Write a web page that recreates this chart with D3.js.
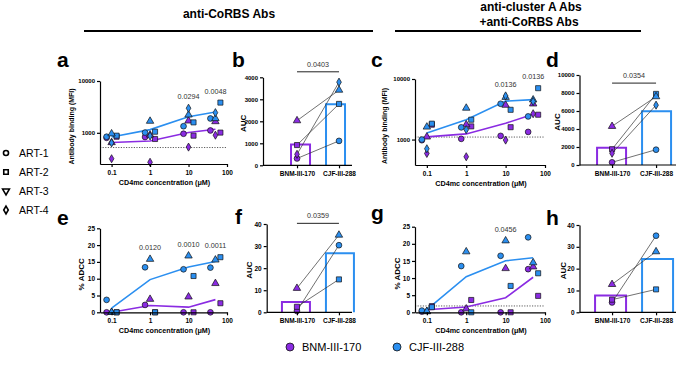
<!DOCTYPE html>
<head>
<meta charset="utf-8">
<script src="https://d3js.org/d3.v7.min.js"></script>
<style>
    body { margin:0; background:#fff; }
    svg text { font-family: "Liberation Sans", Arial, sans-serif; }
</style>
</head>
<body>
<svg id="fig" width="685" height="365"></svg>
<script>

    // ******************** Data ************************
    var compounds = ["BNM-III-170", "CJF-III-288"];
    var arts = ["ART-1", "ART-2", "ART-3", "ART-4"];
    var conc = [0.1, 1, 10, 50];
    var concTicks = [0.1, 1, 10, 100];

    // binding (MFI): rows = concentration, columns = ART-1..ART-4
    var bindCorbsBnm = [[800, 840, 650, 316], [830, 760, 910, 270], [960, 880, 1700, 530], [1110, 1010, 1650, 900]];
    var bindCorbsCjf = [[840, 880, 960, 640], [1010, 1050, 1680, 870], [1340, 1590, 2220, 2985], [1890, 3830, 1890, 2450]];
    var bindComboBnm = [[975, 1760, 1107, 590], [1027, 1650, 1760, 520], [1150, 1600, 3700, 980], [1337, 2570, 3890, 2670]];
    var bindComboCjf = [[1000, 1830, 1615, 705], [1590, 2127, 3310, 1458], [3900, 3100, 5000, 5260], [2410, 7050, 4530, 4250]];
    var bindCorbsP = [null, null, "0.0294", "0.0048"];
    var bindComboP = [null, null, "0.0136", "0.0136"];

    // % ADCC: rows = concentration, columns = ART-1..ART-3
    var adccCorbsBnm = [[0, 0, 0], [2.2, 0, 3.9], [0, 0, 4.6], [0, 2.7, 8.6]];
    var adccCorbsCjf = [[3.7, 0, 0], [13.4, 0, 15.8], [12.8, 10.8, 16.8], [13.3, 16.4, 15.6]];
    var adccComboBnm = [[0.2, 1.8, 0.2], [0, 3.6, 1.0], [0, 0, 12.8], [12.6, 4.8, 13.3]];
    var adccComboCjf = [[0.5, 1.5, 0.3], [13.5, 0, 17.7], [16.5, 7.7, 20.9], [21.9, 11.4, 14.5]];
    var adccCorbsP = [null, "0.0120", "0.0010", "0.0011"];
    var adccComboP = [null, null, "0.0456", null];

    // AUC per ART
    var aucBindCorbsBnm = [310, 920, 2030, 500];
    var aucBindCorbsCjf = [1110, 2790, 3420, 3780];
    var aucBindComboBnm = [300, 1750, 4300, 1300];
    var aucBindComboCjf = [1700, 7900, 7600, 6650];
    var aucAdccCorbsBnm = [0.6, 2.5, 10.9];
    var aucAdccCorbsCjf = [30.4, 14.9, 35.0];
    var aucAdccComboBnm = [4.5, 5.8, 12.8];
    var aucAdccComboCjf = [35.1, 10.5, 27.8];

    // ******************** Globals ************************
    var svg = d3.select("#fig");
    var colors = ["#8a2be2", "#2b8ff0"];
    var symbols = [d3.symbolCircle, d3.symbolSquare, d3.symbolTriangle, d3.symbolDiamond];
    var symSize = [26, 26, 24, 19];
    var artOffset = [-5, 5, 0, 0];

    function marker(g, art, col, x, y) {
        g.append("path")
            .attr("d", d3.symbol().type(symbols[art]).size(symSize[art])())
            .attr("transform", "translate(" + x + "," + y + ")")
            .attr("fill", col)
            .attr("stroke", "#111")
            .attr("stroke-width", 0.7);
    }

    function styleAxis(g, fs) {
        g.attr("font-family", "Liberation Sans, Arial, sans-serif")
            .attr("font-size", fs || 6.5)
            .attr("font-weight", "bold");
        g.select(".domain").attr("stroke-width", 1.2);
        g.selectAll(".tick line").attr("stroke-width", 1.2);
    }

    function yTitle(x, y, txt, fs) {
        svg.append("text")
            .attr("transform", "translate(" + x + "," + y + ") rotate(-90)")
            .attr("text-anchor", "middle")
            .attr("font-size", fs)
            .attr("font-weight", "bold")
            .text(txt);
    }

    function letter(x, y, txt) {
        svg.append("text").attr("x", x).attr("y", y)
            .attr("font-size", 21).attr("font-weight", "bold").text(txt);
    }

    // ******************** Dose-response panels ************************
    function dosePanel(o) {
        var x = d3.scaleLog().domain([0.05, 100]).range([o.x0, o.x1]);
        var y = (o.log ? d3.scaleLog() : d3.scaleLinear()).domain(o.yDomain).range([o.yBot, o.yTop]);
        var g = svg.append("g");

        if (o.dotted != null) {
            g.append("line")
                .attr("x1", o.x0).attr("x2", o.x1)
                .attr("y1", y(o.dotted)).attr("y2", y(o.dotted))
                .attr("stroke", "#333").attr("stroke-width", 0.8)
                .attr("stroke-dasharray", "1.2,1.4");
        }

        var line = d3.line().x(function (d) { return x(d[0]); }).y(function (d) { return y(d[1]); });
        o.data.forEach(function (rows, ci) {
            var means = rows.map(function (r, i) { return [conc[i], d3.mean(r)]; });
            g.append("path").attr("d", line(means))
                .attr("fill", "none").attr("stroke", colors[ci]).attr("stroke-width", 1.6);
        });
        o.data.forEach(function (rows, ci) {
            rows.forEach(function (r, i) {
                r.forEach(function (v, a) {
                    marker(g, a, colors[ci], x(conc[i]) + artOffset[a], y(Math.max(v, o.yDomain[0])));
                });
            });
        });

        // p-values above the highest point
        o.pvals.forEach(function (p, i) {
            if (!p) return;
            var top = d3.max(o.data, function (rows) { return d3.max(rows[i]); });
            g.append("text").attr("x", x(conc[i])).attr("y", y(top) - 9)
                .attr("text-anchor", "middle").attr("font-size", 7.2).attr("fill", "#333").text(p);
        });

        var ax = svg.append("g").attr("transform", "translate(0," + o.yBot + ")")
            .call(d3.axisBottom(x).tickValues(concTicks).tickFormat(d3.format("~g"))
                .tickSize(3).tickSizeOuter(0).tickPadding(3));
        styleAxis(ax);
        var ay = svg.append("g").attr("transform", "translate(" + o.x0 + ",0)")
            .call(d3.axisLeft(y).tickValues(o.yTicks).tickFormat(d3.format("d"))
                .tickSize(3).tickSizeOuter(0).tickPadding(2));
        styleAxis(ay, o.log ? 6 : 6.5);

        svg.append("text").attr("x", (o.x0 + o.x1) / 2 + 1).attr("y", o.yBot + 21)
            .attr("text-anchor", "middle").attr("font-size", 7.2).attr("font-weight", "bold")
            .text("CD4mc concentration (\u03bcM)");
        yTitle(o.titleX, (o.yTop + o.yBot) / 2 + 4, o.yTitle, o.log ? 7 : 8);
    }

    // ******************** AUC panels ************************
    function aucPanel(o) {
        var x = d3.scalePoint().domain(compounds)
            .range([o.axisX + o.pad * o.step, o.axisX + (o.pad + 1) * o.step]);
        var y = d3.scaleLinear().domain(o.yDomain).range([o.yBot, o.yTop]);
        var g = svg.append("g");

        // bars = mean, outlined
        o.data.forEach(function (vals, ci) {
            var cx = x(compounds[ci]);
            var left = ci === 0 ? cx - o.barOuter : cx - o.barInner;
            var right = ci === 0 ? cx + o.barInner : cx + o.barOuter;
            g.append("path")
                .attr("d", "M" + left + "," + o.yBot + "V" + y(d3.mean(vals)) + "H" + right + "V" + o.yBot)
                .attr("fill", "none").attr("stroke", colors[ci]).attr("stroke-width", 2);
        });

        // paired lines
        o.data[0].forEach(function (v, a) {
            g.append("line")
                .attr("x1", x(compounds[0])).attr("y1", y(v))
                .attr("x2", x(compounds[1])).attr("y2", y(o.data[1][a]))
                .attr("stroke", "#333").attr("stroke-width", 0.7);
        });
        o.data.forEach(function (vals, ci) {
            vals.forEach(function (v, a) { marker(g, a, colors[ci], x(compounds[ci]), y(v)); });
        });

        if (o.p) {
            g.append("line").attr("x1", x(compounds[0])).attr("x2", x(compounds[1]))
                .attr("y1", y(o.sigAt)).attr("y2", y(o.sigAt))
                .attr("stroke", "#222").attr("stroke-width", 1);
            g.append("text").attr("x", (x(compounds[0]) + x(compounds[1])) / 2).attr("y", y(o.sigAt) - 5)
                .attr("text-anchor", "middle").attr("font-size", 7.2).attr("fill", "#333").text(o.p);
        }

        var ax = svg.append("g").attr("transform", "translate(0," + o.yBot + ")")
            .call(d3.axisBottom(x).tickSize(3).tickSizeOuter(0).tickPadding(3));
        ax.select(".domain").attr("d", "M" + o.axisX + ",0H" + o.axisEnd);
        styleAxis(ax);
        var ay = svg.append("g").attr("transform", "translate(" + o.axisX + ",0)")
            .call(d3.axisLeft(y).tickValues(d3.range(o.yDomain[0], o.yDomain[1] + 1, o.yStep))
                .tickFormat(d3.format("d"))
                .tickSize(3).tickSizeOuter(0).tickPadding(2));
        styleAxis(ay, o.yStep >= 1000 ? 6 : 6.5);
        yTitle(o.titleX, (o.yTop + o.yBot) / 2 + 2, "AUC", 8);
    }

    // ******************** Headers ************************
    svg.append("text").attr("x", 229).attr("y", 18).attr("text-anchor", "middle")
        .attr("font-size", 12).attr("font-weight", "bold").text("anti-CoRBS Abs");
    svg.append("line").attr("x1", 84).attr("x2", 373).attr("y1", 31).attr("y2", 31)
        .attr("stroke", "#000").attr("stroke-width", 2);
    svg.append("text").attr("x", 531).attr("y", 11).attr("text-anchor", "middle")
        .attr("font-size", 12).attr("font-weight", "bold").text("anti-cluster A Abs");
    svg.append("text").attr("x", 529).attr("y", 26).attr("text-anchor", "middle")
        .attr("font-size", 12).attr("font-weight", "bold").text("+anti-CoRBS Abs");
    svg.append("line").attr("x1", 395).attr("x2", 641).attr("y1", 31).attr("y2", 31)
        .attr("stroke", "#000").attr("stroke-width", 2);

    // ******************** Panels ************************
    dosePanel({ x0: 100, x1: 227, yTop: 81, yBot: 164, log: true, yDomain: [250, 10000], yTicks: [1000, 10000],
        data: [bindCorbsBnm, bindCorbsCjf], pvals: bindCorbsP, dotted: 520, yTitle: "Antibody binding (MFI)", titleX: 74 });
    dosePanel({ x0: 415, x1: 545, yTop: 79, yBot: 165, log: true, yDomain: [380, 10000], yTicks: [1000, 10000],
        data: [bindComboBnm, bindComboCjf], pvals: bindComboP, dotted: 1100, yTitle: "Antibody binding (MFI)", titleX: 387 });
    dosePanel({ x0: 100, x1: 227, yTop: 228.3, yBot: 312.3, log: false, yDomain: [0, 25], yTicks: [0, 5, 10, 15, 20, 25],
        data: [adccCorbsBnm, adccCorbsCjf], pvals: adccCorbsP, dotted: null, yTitle: "% ADCC", titleX: 84 });
    dosePanel({ x0: 415, x1: 545, yTop: 226.7, yBot: 312.3, log: false, yDomain: [0, 25], yTicks: [0, 5, 10, 15, 20, 25],
        data: [adccComboBnm, adccComboCjf], pvals: adccComboP, dotted: 1.85, yTitle: "% ADCC", titleX: 400 });

    aucPanel({ axisX: 263, step: 42, pad: 0.81, axisEnd: 352, yTop: 77.3, yBot: 165.3, yDomain: [0, 4000], yStep: 1000,
        barOuter: 6, barInner: 13, data: [aucBindCorbsBnm, aucBindCorbsCjf], p: "0.0403", sigAt: 4250, titleX: 246 });
    aucPanel({ axisX: 579.5, step: 44, pad: 0.74, axisEnd: 676, yTop: 75, yBot: 165, yDomain: [0, 10000], yStep: 2000,
        barOuter: 15, barInner: 14, data: [aucBindComboBnm, aucBindComboCjf], p: "0.0354", sigAt: 9100, titleX: 560 });
    aucPanel({ axisX: 266.7, step: 42, pad: 0.72, axisEnd: 352, yTop: 224, yBot: 312.3, yDomain: [0, 40], yStep: 10,
        barOuter: 15, barInner: 13, data: [aucAdccCorbsBnm, aucAdccCorbsCjf], p: "0.0359", sigAt: 40.3, titleX: 252 });
    aucPanel({ axisX: 579.5, step: 44, pad: 0.74, axisEnd: 676, yTop: 225, yBot: 312.3, yDomain: [0, 40], yStep: 10,
        barOuter: 17, barInner: 14, data: [aucAdccComboBnm, aucAdccComboCjf], p: null, titleX: 566 });

    // panel letters
    letter(57, 67, "a"); letter(232, 67, "b"); letter(371, 67, "c"); letter(546, 67, "d");
    letter(57, 225, "e"); letter(235, 224, "f"); letter(371, 220, "g"); letter(546, 225, "h");

    // ******************** Legends ************************
    var artLeg = svg.append("g");
    arts.forEach(function (name, a) {
        var yy = 153 + a * 19;
        var type = a === 2 ? d3.symbolTriangle : symbols[a];
        artLeg.append("path")
            .attr("d", d3.symbol().type(type).size(a === 3 ? 18 : 20)())
            .attr("transform", "translate(6," + yy + ")" + (a === 2 ? " rotate(180)" : ""))
            .attr("fill", "#fff").attr("stroke", "#000").attr("stroke-width", 1.6);
        artLeg.append("text").attr("x", 19).attr("y", yy + 3.8).attr("font-size", 10.5).text(name);
    });

    var compLeg = svg.append("g");
    compounds.forEach(function (name, ci) {
        var xx = 290 + ci * 107;
        compLeg.append("circle").attr("cx", xx).attr("cy", 347).attr("r", 4)
            .attr("fill", colors[ci]).attr("stroke", "#111").attr("stroke-width", 0.8);
        compLeg.append("text").attr("x", xx + 12).attr("y", 351).attr("font-size", 11).text(name);
    });

</script>
</body>
